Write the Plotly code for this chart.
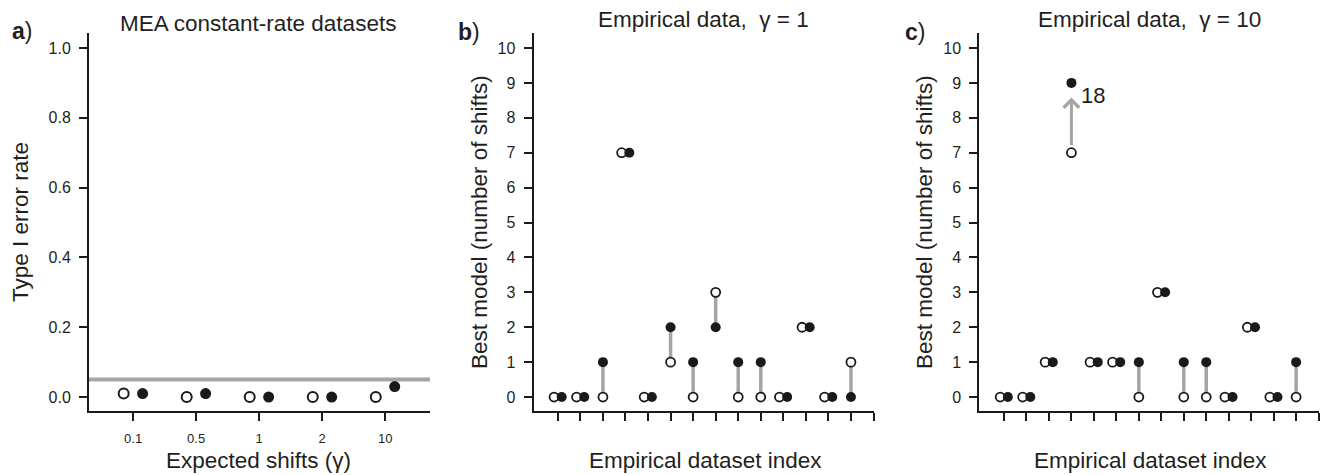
import plotly.graph_objects as go

# ---------------- data ----------------
a_gamma_labels = ["0.1", "0.5", "1", "2", "10"]
a_open = [0.01, 0.0, 0.0, 0.0, 0.0]
a_filled = [0.01, 0.01, 0.0, 0.0, 0.03]
a_threshold = 0.05

b_open = [0, 0, 0, 7, 0, 1, 0, 3, 0, 0, 0, 2, 0, 1]
b_filled = [0, 0, 1, 7, 0, 2, 1, 2, 1, 1, 0, 2, 0, 0]

c_open = [0, 0, 1, 7, 1, 1, 0, 3, 0, 0, 0, 2, 0, 0]
c_filled = [0, 0, 1, 18, 1, 1, 1, 3, 1, 1, 0, 2, 0, 1]
c_cap = 9  # values above the cap are drawn at the cap with an arrow

b_yticks = list(range(0, 11))
a_yticks = [0.0, 0.2, 0.4, 0.6, 0.8, 1.0]

# ---------------- style ----------------
W, H = 1323, 475
FONT = "Liberation Sans, Arial, Helvetica, sans-serif"
TXT = "#231f20"
GRAY = "#a5a5a5"
BLACK = "#1a1a1a"


def fx(p):
    return p / W


def fy(p):
    return 1 - p / H


fig = go.Figure()

# ---- panel a ----
off_a = 0.15
xa = list(range(1, len(a_gamma_labels) + 1))
fig.add_trace(go.Scatter(
    x=[v - off_a for v in xa], y=a_open, mode="markers",
    marker=dict(size=10, color="white", line=dict(color=BLACK, width=2)),
    xaxis="x", yaxis="y", showlegend=False, cliponaxis=False))
fig.add_trace(go.Scatter(
    x=[v + off_a for v in xa], y=a_filled, mode="markers",
    marker=dict(size=11, color=BLACK, line=dict(width=0)),
    xaxis="x", yaxis="y", showlegend=False, cliponaxis=False))
fig.add_shape(type="line", xref="x domain", yref="y", x0=0, x1=1,
              y0=a_threshold, y1=a_threshold,
              line=dict(color=GRAY, width=4), layer="below")


def pair_panel(opens, filleds, xa_name, ya_name, off, cap=None):
    n = len(opens)
    xs = list(range(1, n + 1))
    disp_f = [min(v, cap) if cap is not None else v for v in filleds]
    lx, ly = [], []
    ox, fxs = [], []
    for i in range(n):
        o, f, raw = opens[i], disp_f[i], filleds[i]
        if o == f:
            ox.append(xs[i] - off)
            fxs.append(xs[i] + off)
        else:
            ox.append(xs[i])
            fxs.append(xs[i])
            if cap is None or raw <= cap:
                lx += [xs[i], xs[i], None]
                ly += [o, f, None]
    fig.add_trace(go.Scatter(x=lx, y=ly, mode="lines",
                             line=dict(color=GRAY, width=3.5),
                             xaxis=xa_name, yaxis=ya_name, showlegend=False,
                             hoverinfo="skip"))
    fig.add_trace(go.Scatter(
        x=ox, y=opens, mode="markers",
        marker=dict(size=9, color="white", line=dict(color=BLACK, width=1.8)),
        xaxis=xa_name, yaxis=ya_name, showlegend=False, cliponaxis=False))
    fig.add_trace(go.Scatter(
        x=fxs, y=disp_f, mode="markers",
        marker=dict(size=10, color=BLACK, line=dict(width=0)),
        xaxis=xa_name, yaxis=ya_name, showlegend=False, cliponaxis=False))
    return xs, disp_f


pair_panel(b_open, b_filled, "x2", "y2", 0.17)
xs_c, disp_c = pair_panel(c_open, c_filled, "x3", "y3", 0.17, cap=c_cap)

# arrow + label for capped value in panel c
for i, raw in enumerate(c_filled):
    if raw > c_cap:
        fig.add_annotation(
            x=xs_c[i], y=c_cap - 0.42, ax=xs_c[i], ay=c_open[i] + 0.18,
            xref="x3", yref="y3", axref="x3", ayref="y3",
            showarrow=True, arrowhead=4, arrowsize=1.0, arrowwidth=3,
            arrowcolor=GRAY, text="")
        fig.add_annotation(
            x=xs_c[i] + 0.34, y=c_cap - 0.35, xref="x3", yref="y3",
            text=str(raw), showarrow=False, xanchor="left", yanchor="middle",
            font=dict(size=22, color=TXT, family=FONT))

# ---------------- axes ----------------
ydom = [fy(411), fy(33)]
axis_common = dict(showline=True, linecolor=BLACK, linewidth=2,
                   ticks="outside", ticklen=8, tickwidth=2, tickcolor=BLACK,
                   showgrid=False, zeroline=False, mirror=False,
                   tickfont=dict(family=FONT, size=16, color=TXT))

fig.update_layout(
    width=W, height=H, margin=dict(l=0, r=0, t=0, b=0),
    paper_bgcolor="white", plot_bgcolor="white",
    font=dict(family=FONT, color=TXT),
    xaxis=dict(domain=[fx(89), fx(430)], anchor="y", range=[0.3, 5.71],
               tickvals=xa, ticktext=a_gamma_labels,
               **{**axis_common, "tickfont": dict(family=FONT, size=13, color=TXT)},
               ticklabelstandoff=6),
    yaxis=dict(domain=ydom, anchor="x", range=[-0.04, 1.043],
               tickvals=a_yticks, tickformat=".1f", **axis_common,
               ticklabelstandoff=5),
    xaxis2=dict(domain=[fx(533.5), fx(873.5)], anchor="y2", range=[-0.08, 15],
                tickvals=list(range(1, 16)), showticklabels=False, **axis_common),
    yaxis2=dict(domain=ydom, anchor="x2", range=[-0.4, 10.43],
                tickvals=b_yticks, **axis_common, ticklabelstandoff=5),
    xaxis3=dict(domain=[fx(979.3), fx(1318.6)], anchor="y3", range=[-0.1, 15],
                tickvals=list(range(1, 16)), showticklabels=False, **axis_common),
    yaxis3=dict(domain=ydom, anchor="x3", range=[-0.4, 10.43],
                tickvals=b_yticks, **axis_common, ticklabelstandoff=5),
)

# ---------------- titles & labels ----------------
def txt(x, y, s, size, angle=0, xanchor="center"):
    fig.add_annotation(x=fx(x), y=fy(y), xref="paper", yref="paper", text=s,
                       showarrow=False, textangle=angle, xanchor=xanchor,
                       yanchor="middle",
                       font=dict(family=FONT, size=size, color=TXT))


TS = 22.5
txt(258, 24, "MEA constant-rate datasets", TS)
txt(703, 19, "Empirical data,  γ = 1", TS)
txt(1149, 19, "Empirical data,  γ = 10", TS)

txt(20, 222, "Type I error rate", TS, angle=-90)
txt(479, 222, "Best model (number of shifts)", TS, angle=-90)
txt(924, 222, "Best model (number of shifts)", TS, angle=-90)

txt(258, 460, "Expected shifts (γ)", TS)
txt(705, 460, "Empirical dataset index", TS)
txt(1150, 460, "Empirical dataset index", TS)

txt(10, 31, "<b>a</b>)", 23, xanchor="left")
txt(456, 32, "<b>b</b>)", 23, xanchor="left")
txt(903, 32, "<b>c</b>)", 23, xanchor="left")

fig.write_html("out.html")
